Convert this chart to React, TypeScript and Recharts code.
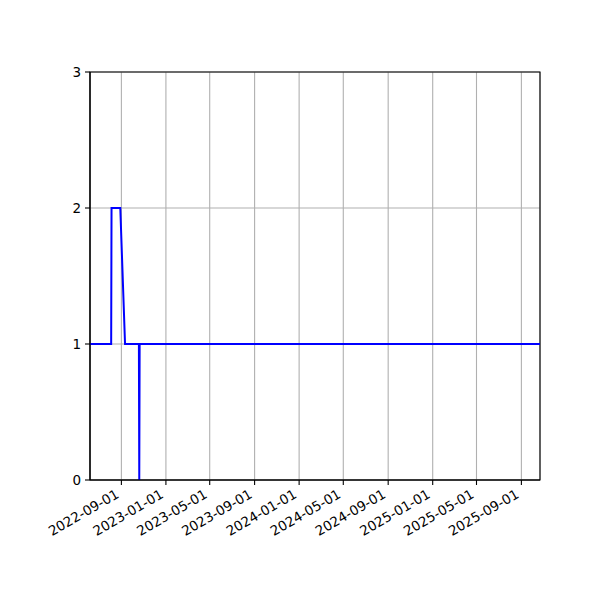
import { CartesianGrid, Line, LineChart, ReferenceArea, XAxis, YAxis } from "recharts";

const dates = [
  "2022-06-07",
  "2022-08-04",
  "2022-08-05",
  "2022-08-29",
  "2022-09-11",
  "2022-10-19",
  "2022-10-20",
  "2022-10-21",
  "2025-10-22"
];
const values = [1, 1, 2, 2, 1, 1, 0, 1, 1];

const xTickLabels = [
  "2022-09-01",
  "2023-01-01",
  "2023-05-01",
  "2023-09-01",
  "2024-01-01",
  "2024-05-01",
  "2024-09-01",
  "2025-01-01",
  "2025-05-01",
  "2025-09-01"
];
const yTicks = [0, 1, 2, 3];

function toTime(d: string): number {
  return Date.parse(d + "T00:00:00Z");
}

const data = dates.map((d, i) => ({ t: toTime(d), v: values[i] }));
const xTicks = xTickLabels.map(toTime);
const xDomain = [toTime(dates[0]), toTime(dates[dates.length - 1])];

function formatDate(value: number): string {
  return new Date(value).toISOString().slice(0, 10);
}

function DateTick(props: any) {
  const { x, y, payload } = props;
  return (
    <g transform={`translate(${x - 1.5},${y + 10})`}>
      <text
        x={0}
        y={0}
        textAnchor="end"
        transform="rotate(-30)"
        fill="#000"
        fontSize={13.5}
        fontFamily="DejaVu Sans"
      >
        {formatDate(payload.value)}
      </text>
    </g>
  );
}

const spine = { stroke: "#000", strokeWidth: 1.1 };

export default function App() {
  return (
    <div style={{ position: "absolute", left: 0, top: 0, width: 600, height: 600, background: "#fff" }}>
      <LineChart
        width={600}
        height={600}
        data={data}
        margin={{ top: 72, right: 60, bottom: 20, left: 40 }}
      >
        <CartesianGrid stroke="#b0b0b0" strokeWidth={1.1} />
        <XAxis
          dataKey="t"
          type="number"
          domain={xDomain}
          ticks={xTicks}
          interval={0}
          height={100}
          tickSize={5}
          tickMargin={2}
          tickLine={spine}
          axisLine={spine}
          tick={<DateTick />}
        />
        <YAxis
          domain={[0, 3]}
          ticks={yTicks}
          interval={0}
          width={50}
          tickSize={5}
          tickMargin={4}
          tickLine={spine}
          axisLine={spine}
          tick={{ fill: "#000", fontSize: 13.5, fontFamily: "DejaVu Sans" }}
        />
        <ReferenceArea
          x1={xDomain[0]}
          x2={xDomain[1]}
          y1={0}
          y2={3}
          fill="none"
          fillOpacity={0}
          stroke="#000"
          strokeWidth={1.1}
          strokeOpacity={1}
        />
        <Line
          type="linear"
          dataKey="v"
          stroke="#0000ff"
          strokeWidth={2}
          dot={false}
          isAnimationActive={false}
        />
      </LineChart>
    </div>
  );
}
